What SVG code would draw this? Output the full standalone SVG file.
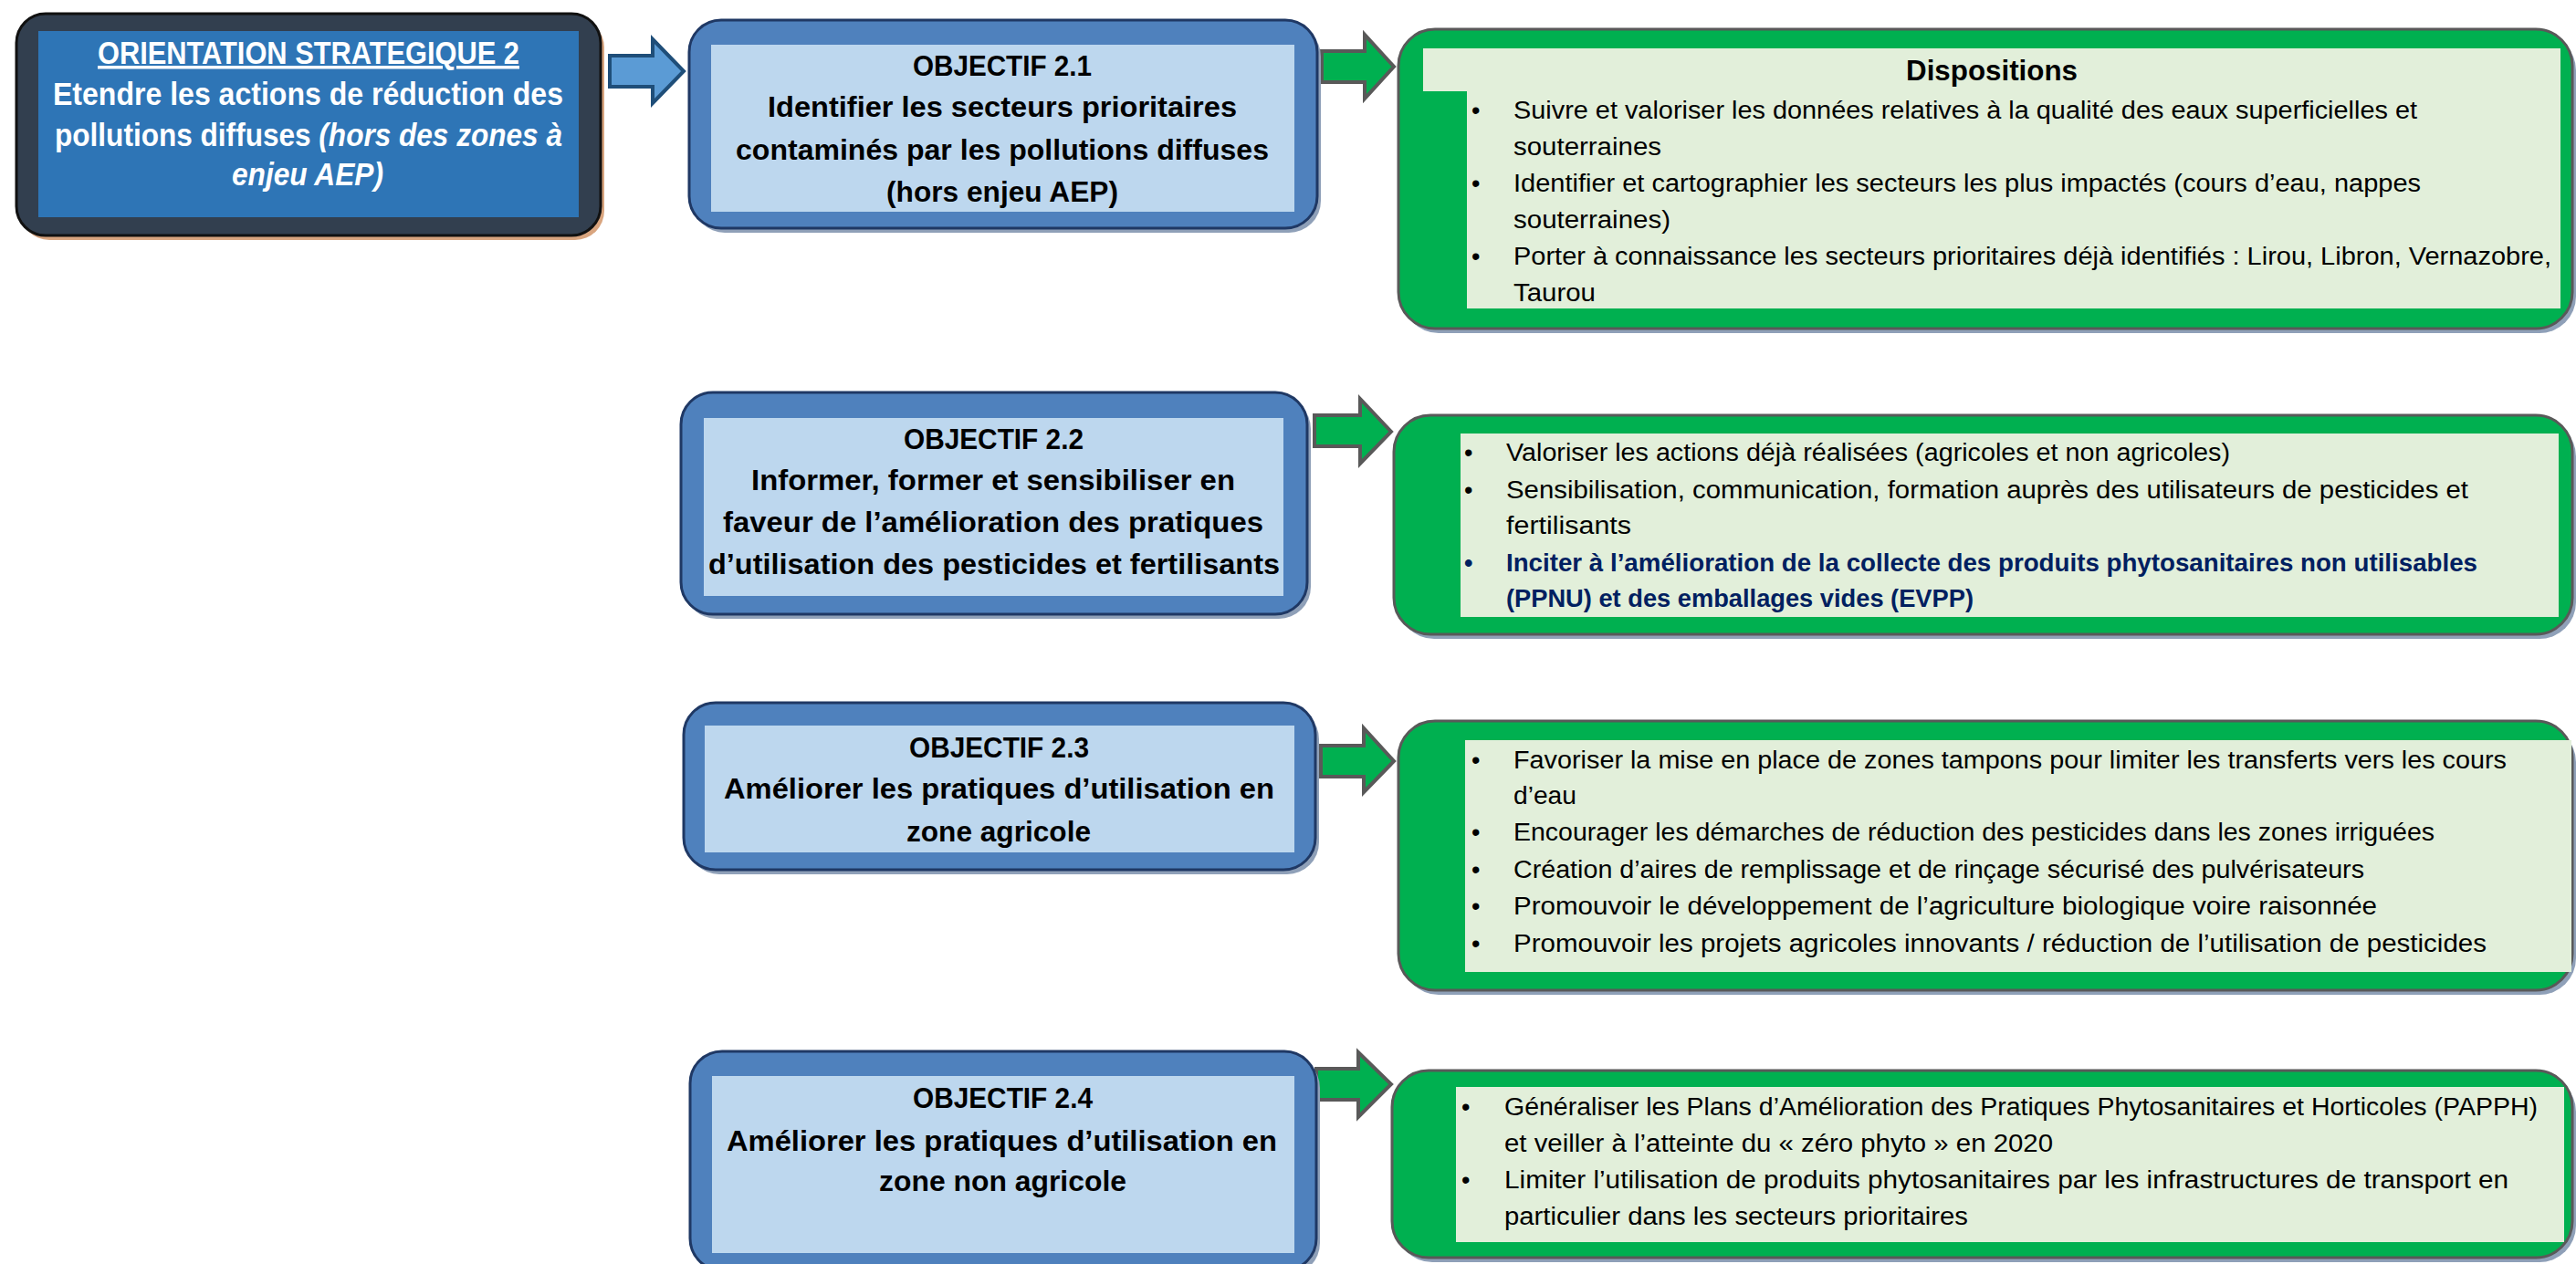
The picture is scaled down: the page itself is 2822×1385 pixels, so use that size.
<svg xmlns="http://www.w3.org/2000/svg" width="2822" height="1385" viewBox="0 0 2822 1385">
<style>
.t{font-family:"Liberation Sans",Arial,sans-serif}
.ob{font-size:31px;font-weight:bold;fill:#000}
.ow{font-size:35px;font-weight:bold;fill:#fff}
.d{font-size:27px;fill:#000}
.db{font-size:27px;fill:#002060;font-weight:bold}
.objOut{fill:#4F81BD;stroke:#1F3864;stroke-width:3}
.objIn{fill:#BDD7EE}
.shadow{fill:#8FA0B8}
.grOut{fill:#00B050;stroke:#595959;stroke-width:3}
.grIn{fill:#E2EFDA}
.garrow{fill:#00B050;stroke:#595959;stroke-width:4;stroke-linejoin:miter}
.barrow{fill:#5B9BD5;stroke:#1F4E79;stroke-width:4}
</style>
<rect width="2822" height="1385" fill="#fff"/>

<g id="orientation">
<rect x="22" y="20" width="640" height="243" rx="32" fill="#D9A57F"/>
<rect x="18" y="15" width="640" height="243" rx="32" fill="#323F4F" stroke="#111" stroke-width="3"/>
<rect x="42" y="34" width="592" height="204" fill="#2E75B6"/>
<text class="t ow" x="107" y="70" textLength="462" lengthAdjust="spacingAndGlyphs" text-decoration="underline">ORIENTATION STRATEGIQUE 2</text>
<text class="t ow" x="58" y="115" textLength="559" lengthAdjust="spacingAndGlyphs">Etendre les actions de réduction des</text>
<text class="t ow" x="60" y="160" textLength="556" lengthAdjust="spacingAndGlyphs">pollutions diffuses <tspan font-style="italic">(hors des zones à</tspan></text>
<text class="t ow" x="254" y="203" textLength="166" lengthAdjust="spacingAndGlyphs" font-style="italic">enjeu AEP)</text>
</g>

<g id="connectors">
<path class="barrow" d="M668,61 L715,61 L715,43 L749,78 L715,113 L715,95 L668,95 Z"/>
<path class="garrow" d="M1448,56 L1495,56 L1495,38 L1527,73 L1495,108 L1495,90 L1448,90 Z"/>
<path class="garrow" d="M1440,455 L1490,455 L1490,437 L1524,473 L1490,508 L1490,489 L1440,489 Z"/>
<path class="garrow" d="M1447,817 L1494,817 L1494,798 L1527,834 L1494,868 L1494,851 L1447,851 Z"/>
<path class="garrow" d="M1442,1171 L1488,1171 L1488,1153 L1524,1188 L1488,1224 L1488,1205 L1442,1205 Z"/>
</g>

<g id="obj21">
<rect class="shadow" x="759" y="27" width="688" height="228" rx="35"/>
<rect class="objOut" x="755" y="22" width="688" height="228" rx="35"/>
<rect class="objIn" x="779" y="49" width="639" height="183"/>
<text class="t ob" x="1000" y="83" textLength="196" lengthAdjust="spacingAndGlyphs">OBJECTIF 2.1</text>
<text class="t ob" x="841" y="128" textLength="514" lengthAdjust="spacingAndGlyphs">Identifier les secteurs prioritaires</text>
<text class="t ob" x="806" y="175" textLength="584" lengthAdjust="spacingAndGlyphs">contaminés par les pollutions diffuses</text>
<text class="t ob" x="971" y="221" textLength="254" lengthAdjust="spacingAndGlyphs">(hors enjeu AEP)</text>
</g>

<g id="obj22">
<rect class="shadow" x="750" y="435" width="686" height="243" rx="35"/>
<rect class="objOut" x="746" y="430" width="686" height="243" rx="35"/>
<rect class="objIn" x="771" y="458" width="635" height="195"/>
<text class="t ob" x="990" y="492" textLength="197" lengthAdjust="spacingAndGlyphs">OBJECTIF 2.2</text>
<text class="t ob" x="823" y="537" textLength="530" lengthAdjust="spacingAndGlyphs">Informer, former et sensibiliser en</text>
<text class="t ob" x="792" y="583" textLength="592" lengthAdjust="spacingAndGlyphs">faveur de l’amélioration des pratiques</text>
<text class="t ob" x="776" y="629" textLength="626" lengthAdjust="spacingAndGlyphs">d’utilisation des pesticides et fertilisants</text>
</g>

<g id="obj23">
<rect class="shadow" x="753" y="775" width="692" height="183" rx="35"/>
<rect class="objOut" x="749" y="770" width="692" height="183" rx="35"/>
<rect class="objIn" x="772" y="795" width="646" height="139"/>
<text class="t ob" x="996" y="830" textLength="197" lengthAdjust="spacingAndGlyphs">OBJECTIF 2.3</text>
<text class="t ob" x="793" y="875" textLength="603" lengthAdjust="spacingAndGlyphs">Améliorer les pratiques d’utilisation en</text>
<text class="t ob" x="993" y="922" textLength="202" lengthAdjust="spacingAndGlyphs">zone agricole</text>
</g>

<g id="obj24">
<rect class="shadow" x="760" y="1157" width="686" height="240" rx="35"/>
<rect class="objOut" x="756" y="1152" width="686" height="240" rx="35"/>
<rect class="objIn" x="780" y="1179" width="638" height="194"/>
<text class="t ob" x="1000" y="1214" textLength="197" lengthAdjust="spacingAndGlyphs">OBJECTIF 2.4</text>
<text class="t ob" x="796" y="1261" textLength="603" lengthAdjust="spacingAndGlyphs">Améliorer les pratiques d’utilisation en</text>
<text class="t ob" x="963" y="1305" textLength="271" lengthAdjust="spacingAndGlyphs">zone non agricole</text>
</g>

<g id="disp1">
<rect class="shadow" x="1536" y="37" width="1286" height="328" rx="40"/>
<rect class="grOut" x="1532" y="32" width="1286" height="328" rx="40"/>
<path class="grIn" d="M1559,53 L2805,53 L2805,338 L1607,338 L1607,100 L1559,100 Z"/>
<text class="t" x="2088" y="88" font-size="31" font-weight="bold" textLength="188" lengthAdjust="spacingAndGlyphs">Dispositions</text>
<text class="t d" x="1612" y="130">•</text>
<text class="t d" x="1658" y="130" textLength="990" lengthAdjust="spacingAndGlyphs">Suivre et valoriser les données relatives à la qualité des eaux superficielles et</text>
<text class="t d" x="1658" y="170" textLength="162" lengthAdjust="spacingAndGlyphs">souterraines</text>
<text class="t d" x="1612" y="210">•</text>
<text class="t d" x="1658" y="210" textLength="994" lengthAdjust="spacingAndGlyphs">Identifier et cartographier les secteurs les plus impactés (cours d’eau, nappes</text>
<text class="t d" x="1658" y="250" textLength="172" lengthAdjust="spacingAndGlyphs">souterraines)</text>
<text class="t d" x="1612" y="290">•</text>
<text class="t d" x="1658" y="290" textLength="1137" lengthAdjust="spacingAndGlyphs">Porter à connaissance les secteurs prioritaires déjà identifiés : Lirou, Libron, Vernazobre,</text>
<text class="t d" x="1658" y="330" textLength="90" lengthAdjust="spacingAndGlyphs">Taurou</text>
</g>

<g id="disp2">
<rect class="shadow" x="1531" y="460" width="1291" height="240" rx="40"/>
<rect class="grOut" x="1527" y="455" width="1291" height="240" rx="40"/>
<rect class="grIn" x="1600" y="475" width="1203" height="201"/>
<text class="t d" x="1604" y="505">•</text>
<text class="t d" x="1650" y="505" textLength="793" lengthAdjust="spacingAndGlyphs">Valoriser les actions déjà réalisées (agricoles et non agricoles)</text>
<text class="t d" x="1604" y="546">•</text>
<text class="t d" x="1650" y="546" textLength="1054" lengthAdjust="spacingAndGlyphs">Sensibilisation, communication, formation auprès des utilisateurs de pesticides et</text>
<text class="t d" x="1650" y="585" textLength="137" lengthAdjust="spacingAndGlyphs">fertilisants</text>
<text class="t db" x="1604" y="626">•</text>
<text class="t db" x="1650" y="626" textLength="1064" lengthAdjust="spacingAndGlyphs">Inciter à l’amélioration de la collecte des produits phytosanitaires non utilisables</text>
<text class="t db" x="1650" y="665" textLength="512" lengthAdjust="spacingAndGlyphs">(PPNU) et des emballages vides (EVPP)</text>
</g>

<g id="disp3">
<rect class="shadow" x="1536" y="795" width="1286" height="295" rx="40"/>
<rect class="grOut" x="1532" y="790" width="1286" height="295" rx="40"/>
<rect class="grIn" x="1605" y="811" width="1212" height="254"/>
<text class="t d" x="1612" y="842">•</text>
<text class="t d" x="1658" y="842" textLength="1088" lengthAdjust="spacingAndGlyphs">Favoriser la mise en place de zones tampons pour limiter les transferts vers les cours</text>
<text class="t d" x="1658" y="881" textLength="69" lengthAdjust="spacingAndGlyphs">d’eau</text>
<text class="t d" x="1612" y="921">•</text>
<text class="t d" x="1658" y="921" textLength="1009" lengthAdjust="spacingAndGlyphs">Encourager les démarches de réduction des pesticides dans les zones irriguées</text>
<text class="t d" x="1612" y="962">•</text>
<text class="t d" x="1658" y="962" textLength="932" lengthAdjust="spacingAndGlyphs">Création d’aires de remplissage et de rinçage sécurisé des pulvérisateurs</text>
<text class="t d" x="1612" y="1002">•</text>
<text class="t d" x="1658" y="1002" textLength="946" lengthAdjust="spacingAndGlyphs">Promouvoir le développement de l’agriculture biologique voire raisonnée</text>
<text class="t d" x="1612" y="1043">•</text>
<text class="t d" x="1658" y="1043" textLength="1066" lengthAdjust="spacingAndGlyphs">Promouvoir les projets agricoles innovants / réduction de l’utilisation de pesticides</text>
</g>

<g id="disp4">
<rect class="shadow" x="1529" y="1178" width="1293" height="205" rx="40"/>
<rect class="grOut" x="1525" y="1173" width="1293" height="205" rx="40"/>
<rect class="grIn" x="1595" y="1191" width="1214" height="170"/>
<text class="t d" x="1601" y="1222">•</text>
<text class="t d" x="1648" y="1222" textLength="1132" lengthAdjust="spacingAndGlyphs">Généraliser les Plans d’Amélioration des Pratiques Phytosanitaires et Horticoles (PAPPH)</text>
<text class="t d" x="1648" y="1262" textLength="601" lengthAdjust="spacingAndGlyphs">et veiller à l’atteinte du « zéro phyto » en 2020</text>
<text class="t d" x="1601" y="1302">•</text>
<text class="t d" x="1648" y="1302" textLength="1100" lengthAdjust="spacingAndGlyphs">Limiter l’utilisation de produits phytosanitaires par les infrastructures de transport en</text>
<text class="t d" x="1648" y="1342" textLength="508" lengthAdjust="spacingAndGlyphs">particulier dans les secteurs prioritaires</text>
</g>
</svg>
